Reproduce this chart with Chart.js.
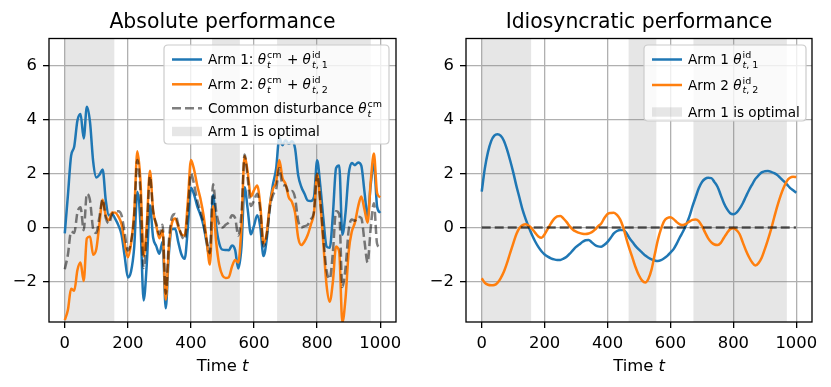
<!DOCTYPE html>
<html>
<head>
<meta charset="utf-8">
<script src="https://cdn.jsdelivr.net/npm/chart.js@4.4.1/dist/chart.umd.min.js"></script>
<style>
  html, body { margin: 0; padding: 0; background: #fff; }
  #wrap { position: relative; width: 831px; height: 387px; }
  .panel { position: absolute; top: 0; height: 387px; }
  #left { left: 0; width: 415px; }
  #right { left: 415px; width: 416px; }
</style>
</head>
<body>
<div id="wrap">
  <div class="panel" id="left"><canvas id="absChart"></canvas></div>
  <div class="panel" id="right"><canvas id="idioChart"></canvas></div>
</div>
<script>
// time grid (every 10 steps)
const timeSteps = [
  0,10,20,30,40,50,60,70,80,90,100,110,120,130,140,150,160,170,180,190,
  200,210,220,230,240,250,260,270,280,290,300,310,320,330,340,350,360,370,380,390,
  400,410,420,430,440,450,460,470,480,490,500,510,520,530,540,550,560,570,580,590,
  600,610,620,630,640,650,660,670,680,690,700,710,720,730,740,750,760,770,780,790,
  800,810,820,830,840,850,860,870,880,890,900,910,920,930,940,950,960,970,980,990,1000
];

// common disturbance theta^cm
const commonDist = [
  -1.55,-1.0,-0.15,-0.2,0.55,0.75,-0.1,1.25,1.0,-0.05,-0.2,0.4,1.05,0.35,0.15,0.5,0.6,0.6,0.45,-0.2,
  -0.85,-0.55,0.4,2.5,1.3,-1.5,-0.2,1.9,0.6,0.15,-0.25,0.1,-2.45,-0.5,0.4,0.5,0.1,-0.3,-0.45,0.6,
  2.0,1.6,1.0,0.6,0.15,-0.5,-0.95,1.6,0.6,0.1,0.0,0.1,0.2,0.45,0.35,-0.3,0.5,2.7,1.8,0.8,
  1.0,1.25,0.6,-0.7,-0.3,0.7,1.2,1.4,2.2,1.6,1.55,1.3,1.35,1.1,0.25,0.0,0.05,0.1,0.3,0.6,
  2.0,1.0,-0.4,-1.6,-1.9,-0.9,0.6,0.5,-2.2,-1.5,-0.1,0.3,0.25,0.4,0.35,-0.5,-1.3,0.0,0.9,-0.6,-0.75
];

// idiosyncratic parts
const idioArm1 = [
  1.33,2.2,2.8,3.2,3.4,3.45,3.4,3.22,2.9,2.5,2.05,1.55,1.1,0.65,0.3,0.0,-0.28,-0.52,-0.72,-0.88,
  -1.0,-1.08,-1.14,-1.18,-1.2,-1.2,-1.15,-1.08,-0.97,-0.84,-0.72,-0.63,-0.54,-0.47,-0.46,-0.55,-0.65,-0.7,-0.71,-0.64,
  -0.53,-0.38,-0.22,-0.13,-0.09,-0.09,-0.2,-0.4,-0.55,-0.7,-0.82,-0.93,-1.04,-1.12,-1.18,-1.22,-1.24,-1.21,-1.14,-1.05,
  -0.93,-0.8,-0.6,-0.36,-0.15,0.1,0.4,0.78,1.12,1.45,1.68,1.8,1.84,1.83,1.68,1.5,1.2,0.9,0.68,0.53,
  0.49,0.55,0.7,0.9,1.15,1.39,1.6,1.8,1.93,2.04,2.08,2.09,2.06,2.01,1.94,1.83,1.72,1.6,1.47,1.38,1.29
];
const idioArm2 = [
  -1.88,-2.05,-2.12,-2.14,-2.13,-2.05,-1.88,-1.65,-1.33,-0.96,-0.6,-0.25,-0.02,0.09,0.12,0.06,-0.05,-0.2,-0.33,-0.38,
  -0.25,-0.05,0.15,0.32,0.41,0.43,0.33,0.2,0.04,-0.08,-0.15,-0.2,-0.23,-0.24,-0.22,-0.17,-0.08,0.05,0.15,0.35,
  0.5,0.54,0.55,0.47,0.3,0.0,-0.42,-0.8,-1.15,-1.5,-1.78,-1.97,-2.04,-1.9,-1.55,-1.0,-0.46,-0.05,0.24,0.35,
  0.38,0.31,0.2,0.12,0.09,0.14,0.22,0.28,0.3,0.24,0.06,-0.18,-0.4,-0.55,-0.63,-0.65,-0.57,-0.38,-0.2,-0.06,
  -0.03,-0.1,-0.25,-0.55,-0.85,-1.1,-1.3,-1.41,-1.32,-1.12,-0.8,-0.45,-0.06,0.38,0.8,1.17,1.48,1.72,1.84,1.88,1.87
];

// absolute performance = common + idiosyncratic
const absArm1 = [
  -0.22,1.2,2.65,3.0,3.95,4.2,3.3,4.47,3.9,2.45,1.85,1.95,2.15,1.0,0.45,0.5,0.32,0.08,-0.27,-1.08,
  -1.85,-1.63,-0.74,1.32,0.1,-2.7,-1.35,0.82,-0.37,-0.69,-0.97,-0.53,-2.99,-0.97,-0.06,-0.05,-0.55,-1.0,-1.16,-0.04,
  1.47,1.22,0.78,0.47,0.06,-0.59,-1.15,1.2,0.05,-0.6,-0.82,-0.83,-0.84,-0.67,-0.83,-1.52,-0.74,1.49,0.66,-0.25,
  0.07,0.45,0.0,-1.06,-0.45,0.8,1.6,2.18,3.32,3.05,3.23,3.1,3.19,2.93,1.93,1.5,1.25,1.0,0.98,1.13,
  2.49,1.55,0.3,-0.7,-0.75,0.49,2.2,2.3,-0.27,0.54,1.98,2.39,2.31,2.41,2.29,1.33,0.42,1.6,2.37,0.78,0.54
];
const absArm2 = [
  -3.43,-3.05,-2.27,-2.34,-1.58,-1.3,-1.98,-0.4,-0.33,-1.01,-0.8,0.15,1.03,0.44,0.27,0.56,0.55,0.4,0.12,-0.58,
  -1.1,-0.6,0.55,2.82,1.71,-1.07,0.13,2.1,0.64,0.07,-0.4,-0.1,-2.68,-0.74,0.18,0.33,0.02,-0.25,-0.3,0.95,
  2.5,2.14,1.55,1.07,0.45,-0.5,-1.37,0.8,-0.55,-1.4,-1.78,-1.87,-1.84,-1.45,-1.2,-1.3,0.04,2.65,2.04,1.15,
  1.38,1.56,0.8,-0.58,-0.21,0.84,1.42,1.68,2.5,1.84,1.61,1.12,0.95,0.55,-0.38,-0.65,-0.52,-0.28,0.1,0.54,
  1.97,0.9,-0.65,-2.15,-2.75,-2.0,-0.7,-0.91,-3.52,-2.62,-0.9,-0.15,0.19,0.78,1.15,0.67,0.18,1.72,2.74,1.28,1.12
];

// mean line in the right panel
const meanLineT = [0, 999];
const meanLineV = [0, 0];

// periods where arm 1 is optimal
const optimalStart = [0, 467, 673];
const optimalEnd = [157, 555, 970];

const xTicks = [0, 200, 400, 600, 800, 1000];
const yTicks = [-2, 0, 2, 4, 6];

const FONT = '"DejaVu Sans"';
const BLUE = '#1f77b4';
const ORANGE = '#ff7f0e';

const pts = (xs, ys) => xs.map((x, i) => ({ x: x, y: ys[i] }));

function drawRuns(ctx, x, y, runs, size) {
  const small = size * 0.7;
  for (const r of runs) {
    ctx.font = (r.it ? 'italic ' : '') + size + 'px ' + FONT;
    ctx.fillText(r.s, x, y);
    x += ctx.measureText(r.s).width;
    if (r.sup || r.sub) {
      let w1 = 0, w2 = 0;
      if (r.sup) {
        ctx.font = small + 'px ' + FONT;
        ctx.fillText(r.sup, x + 1, y - size * 0.45);
        w1 = ctx.measureText(r.sup).width;
      }
      if (r.sub) {
        let xx = x + 1;
        for (const p of r.sub) {
          ctx.font = (p.it ? 'italic ' : '') + small + 'px ' + FONT;
          ctx.fillText(p.s, xx, y + size * 0.25);
          xx += ctx.measureText(p.s).width;
        }
        w2 = xx - x - 1;
      }
      x += Math.max(w1, w2) + 2;
    }
  }
  return x;
}

function roundRect(ctx, x, y, w, h, r) {
  ctx.beginPath();
  ctx.moveTo(x + r, y);
  ctx.lineTo(x + w - r, y);
  ctx.quadraticCurveTo(x + w, y, x + w, y + r);
  ctx.lineTo(x + w, y + h - r);
  ctx.quadraticCurveTo(x + w, y + h, x + w - r, y + h);
  ctx.lineTo(x + r, y + h);
  ctx.quadraticCurveTo(x, y + h, x, y + h - r);
  ctx.lineTo(x, y + r);
  ctx.quadraticCurveTo(x, y, x + r, y);
  ctx.closePath();
}

const decorPlugin = {
  id: 'decor',
  beforeDatasetsDraw(chart) {
    const { ctx, chartArea: a, scales } = chart;
    ctx.save();
    ctx.fillStyle = 'rgba(128,128,128,0.2)';
    optimalStart.forEach((s, i) => {
      const x1 = scales.x.getPixelForValue(s);
      const x2 = scales.x.getPixelForValue(optimalEnd[i]);
      ctx.fillRect(x1, a.top, x2 - x1, a.bottom - a.top);
    });
    ctx.restore();
  },
  afterDraw(chart, args, opts) {
    const { ctx, chartArea: a } = chart;
    ctx.save();
    // frame
    ctx.strokeStyle = '#000';
    ctx.lineWidth = 1.3;
    ctx.strokeRect(a.left, a.top, a.right - a.left, a.bottom - a.top);
    // title
    const cx = (a.left + a.right) / 2;
    ctx.fillStyle = '#000';
    ctx.textAlign = 'center';
    ctx.textBaseline = 'alphabetic';
    ctx.font = '20.4px ' + FONT;
    ctx.fillText(opts.title, cx, 28.3);
    // x axis label "Time t"
    ctx.textAlign = 'left';
    ctx.font = '16.4px ' + FONT;
    const w1 = ctx.measureText('Time ').width;
    ctx.font = 'italic 16.4px ' + FONT;
    const w2 = ctx.measureText('t').width;
    const sx = cx - (w1 + w2) / 2;
    ctx.font = '16.4px ' + FONT;
    ctx.fillText('Time ', sx, 370.7);
    ctx.font = 'italic 16.4px ' + FONT;
    ctx.fillText('t', sx + w1, 370.7);
    // legend
    const L = opts.legend;
    ctx.fillStyle = 'rgba(255,255,255,0.8)';
    ctx.strokeStyle = '#cccccc';
    ctx.lineWidth = 1.2;
    roundRect(ctx, L.box[0], L.box[1], L.box[2], L.box[3], 4);
    ctx.fill();
    ctx.stroke();
    L.items.forEach((it, i) => {
      const y = L.rows[i];
      const hx = L.box[0] + 8;
      if (it.kind === 'patch') {
        ctx.fillStyle = 'rgba(128,128,128,0.2)';
        ctx.fillRect(hx, y - 4.7, 30, 9.4);
      } else {
        ctx.strokeStyle = it.color;
        ctx.lineWidth = 2.5;
        ctx.setLineDash(it.dash || []);
        ctx.beginPath();
        ctx.moveTo(hx, y);
        ctx.lineTo(hx + 30, y);
        ctx.stroke();
        ctx.setLineDash([]);
      }
      ctx.fillStyle = '#000';
      ctx.textAlign = 'left';
      drawRuns(ctx, L.textX, y + 4.9, it.runs, 13.6);
    });
    ctx.restore();
  }
};

function axes(yWidth) {
  const tickFont = { family: 'DejaVu Sans', size: 16.4 };
  const grid = { color: '#b0b0b0', lineWidth: 1.3, tickColor: '#000', tickLength: 6, tickWidth: 1.3 };
  return {
    x: {
      type: 'linear', min: -50, max: 1050,
      afterBuildTicks: s => { s.ticks = xTicks.map(v => ({ value: v })); },
      afterFit: s => { s.height = 65; },
      ticks: { font: tickFont, color: '#000', padding: 6, maxRotation: 0, autoSkip: false,
               callback: v => String(v) },
      grid: grid, border: { display: false }
    },
    y: {
      type: 'linear', min: -3.5, max: 7,
      afterBuildTicks: s => { s.ticks = yTicks.map(v => ({ value: v })); },
      afterFit: s => { s.width = yWidth; },
      ticks: { font: tickFont, color: '#000', padding: 6,
               callback: v => (v < 0 ? '\u2212' + Math.abs(v) : String(v)) },
      grid: grid, border: { display: false }
    }
  };
}

const lineStyle = { pointRadius: 0, borderWidth: 2.5, cubicInterpolationMode: 'monotone', fill: false };

const thetaCm = { s: '\u03b8', it: true, sup: 'cm', sub: [{ s: 't', it: true }] };
const thetaId = n => ({ s: '\u03b8', it: true, sup: 'id', sub: [{ s: 't', it: true }, { s: ', ' + n }] });

new Chart(document.getElementById('absChart'), {
  type: 'line',
  data: {
    datasets: [
      Object.assign({ data: pts(timeSteps, commonDist), borderColor: 'rgba(0,0,0,0.5)', borderDash: [9, 4] }, lineStyle),
      Object.assign({ data: pts(timeSteps, absArm2), borderColor: ORANGE }, lineStyle),
      Object.assign({ data: pts(timeSteps, absArm1), borderColor: BLUE }, lineStyle)
    ]
  },
  options: {
    responsive: true, maintainAspectRatio: false, animation: false, devicePixelRatio: 1,
    layout: { padding: { left: 0, right: 19, top: 38.5, bottom: 0 } },
    scales: axes(49),
    plugins: {
      legend: { display: false }, tooltip: { enabled: false },
      decor: {
        title: 'Absolute performance',
        legend: {
          box: [164, 45, 225, 99], textX: 208, rows: [59.5, 84.3, 108.3, 131.5],
          items: [
            { color: BLUE, runs: [{ s: 'Arm 1: ' }, thetaCm, { s: ' + ' }, thetaId(1)] },
            { color: ORANGE, runs: [{ s: 'Arm 2: ' }, thetaCm, { s: ' + ' }, thetaId(2)] },
            { color: 'rgba(0,0,0,0.5)', dash: [9, 4], runs: [{ s: 'Common disturbance ' }, thetaCm] },
            { kind: 'patch', runs: [{ s: 'Arm 1 is optimal' }] }
          ]
        }
      }
    }
  },
  plugins: [decorPlugin]
});

new Chart(document.getElementById('idioChart'), {
  type: 'line',
  data: {
    datasets: [
      Object.assign({ data: pts(meanLineT, meanLineV), borderColor: 'rgba(0,0,0,0.6)', borderDash: [9, 4] }, lineStyle),
      Object.assign({ data: pts(timeSteps, idioArm2), borderColor: ORANGE }, lineStyle),
      Object.assign({ data: pts(timeSteps, idioArm1), borderColor: BLUE }, lineStyle)
    ]
  },
  options: {
    responsive: true, maintainAspectRatio: false, animation: false, devicePixelRatio: 1,
    layout: { padding: { left: 0, right: 19, top: 38.5, bottom: 0 } },
    scales: axes(51),
    plugins: {
      legend: { display: false }, tooltip: { enabled: false },
      decor: {
        title: 'Idiosyncratic performance',
        legend: {
          box: [229, 45, 162, 76], textX: 273, rows: [59.5, 85, 112],
          items: [
            { color: BLUE, runs: [{ s: 'Arm 1 ' }, thetaId(1)] },
            { color: ORANGE, runs: [{ s: 'Arm 2 ' }, thetaId(2)] },
            { kind: 'patch', runs: [{ s: 'Arm 1 is optimal' }] }
          ]
        }
      }
    }
  },
  plugins: [decorPlugin]
});
</script>
</body>
</html>
